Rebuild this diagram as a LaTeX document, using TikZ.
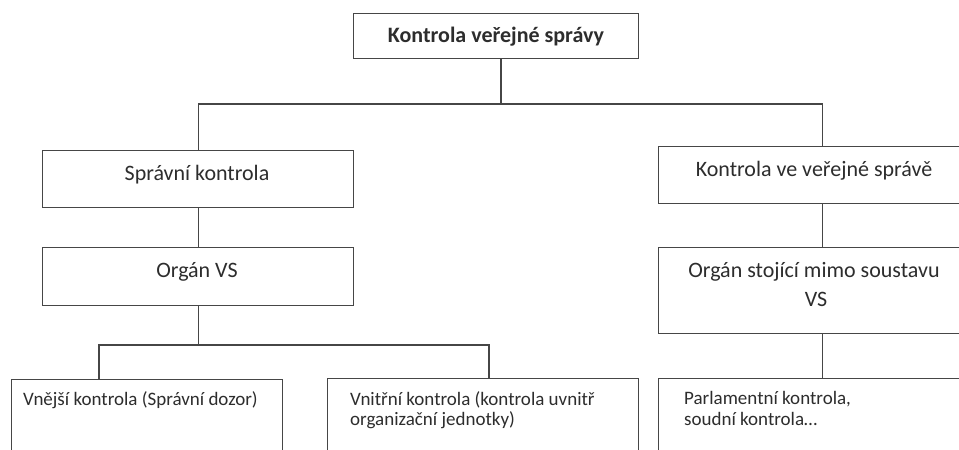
\documentclass[tikz,border=0pt]{standalone}
\usepackage{fontspec}
\setmainfont{Carlito}
\definecolor{txt}{RGB}{45,45,45}
\definecolor{ln}{RGB}{70,70,70}
\begin{document}
\begin{tikzpicture}[x=1pt,y=-1pt,
  box/.style={draw=ln,line width=1.3pt,fill=white,inner sep=0pt,anchor=north west},
  conn/.style={draw=ln,line width=1.3pt},
  big/.style={font=\fontsize{22}{29}\selectfont,text=txt,inner sep=0pt,anchor=base},
  small/.style={font=\fontsize{19}{20.5}\selectfont,text=txt,inner sep=0pt,anchor=base west}]
\useasboundingbox (0,0) rectangle (959,450);
\clip (0,0) rectangle (959,450);
% boxes
\node[box,minimum width=285pt,minimum height=45pt] (top) at (353,13) {};
\node[box,minimum width=311pt,minimum height=57pt] (sk) at (42,150) {};
\node[box,minimum width=311pt,minimum height=58pt] (ovs) at (42,247) {};
\node[box,minimum width=328pt,minimum height=57pt] (kv) at (658,146) {};
\node[box,minimum width=328pt,minimum height=86pt] (os) at (658,247) {};
\node[box,minimum width=271pt,minimum height=120pt] (vne) at (11,379) {};
\node[box,minimum width=311pt,minimum height=120pt] (vni) at (327,378) {};
\node[box,minimum width=328pt,minimum height=120pt] (par) at (658,378) {};
% connectors
\coordinate (hub) at (501,104);
\coordinate (hub2) at (198,345);
\coordinate (b1) at (99,345);
\coordinate (b2) at (489,345);
\draw[conn] (top.south -| hub) -- (hub);
\draw[conn] (sk.north) |- (hub) -| (kv.north);
\draw[conn] (sk.south) -- (ovs.north);
\draw[conn] (kv.south) -- (os.north);
\draw[conn] (os.south) -- (par.north);
\draw[conn] (ovs.south) -- (ovs.south |- hub2);
\draw[conn] (b1 |- vne.north) -- (b1) -- (b2) -- (b2 |- vni.north);
% texts
\node[big,font=\fontsize{22}{29}\selectfont\bfseries] (t1) at (496,42) {Kontrola veřejné správy};
\node[big] (t2) at (197,180) {Správní kontrola};
\node[big] (t3) at (197,277) {Orgán VS};
\node[big] (t4) at (814,176) {Kontrola ve veřejné správě};
\node[big] (t5) at (814,277) {Orgán stojící mimo soustavu};
\node[big] (t6) at (816,306) {VS};
\node[small] (t7) at (23,405) {Vnější kontrola (Správní dozor)};
\node[small] (t8) at (350,405) {Vnitřní kontrola (kontrola uvnitř};
\node[small] (t9) at (350,425) {organizační jednotky)};
\node[small] (t10) at (684,404) {Parlamentní kontrola,};
\node[small] (t11) at (684,425) {soudní kontrola…};
\end{tikzpicture}
\end{document}
